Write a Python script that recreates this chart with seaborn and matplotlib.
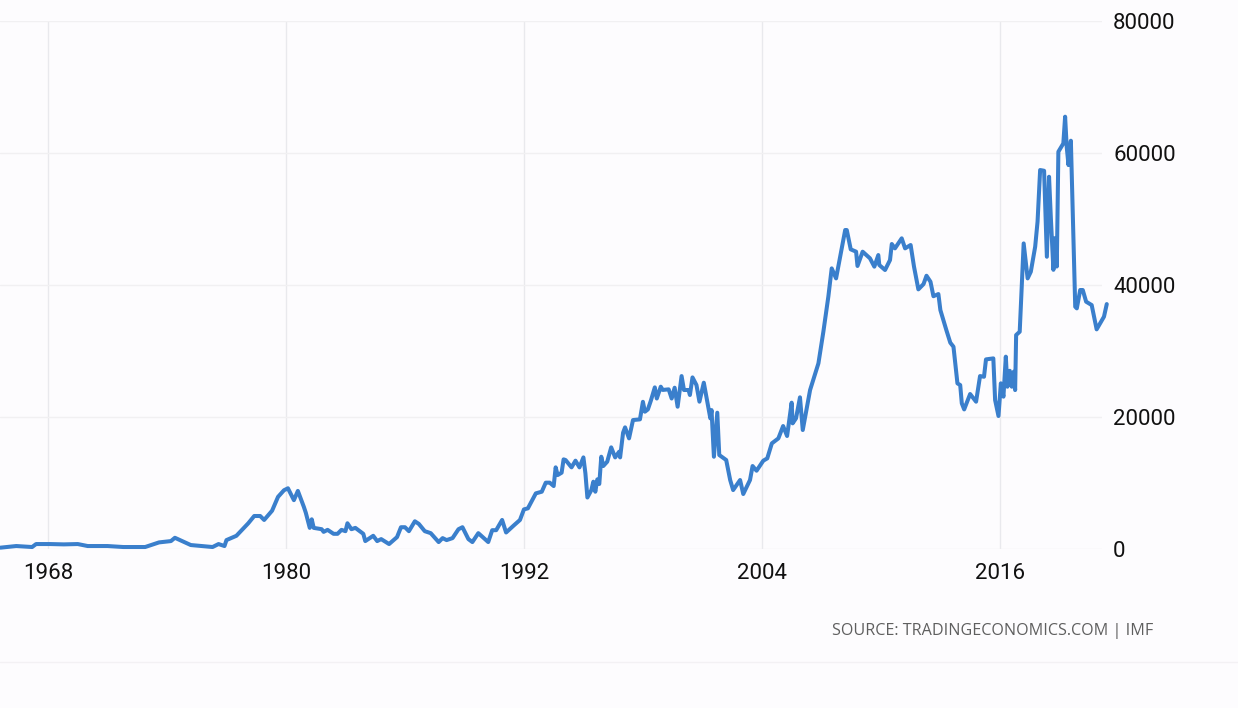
import matplotlib
matplotlib.use("Agg")
import matplotlib.pyplot as plt
from matplotlib.lines import Line2D
import pandas as pd
import seaborn as sns

# values
years = [
    1965.6, 1966.4, 1967.2, 1967.4, 1968.1, 1968.8, 1969.5, 1970.0, 1971.0, 1971.8,
    1972.9, 1973.6, 1974.2, 1974.4, 1975.2, 1976.3, 1976.6, 1976.9, 1977.0, 1977.5,
    1978.1, 1978.4, 1978.7, 1978.9, 1979.3, 1979.6, 1979.9, 1980.1, 1980.4, 1980.6,
    1980.9, 1981.0, 1981.2, 1981.3, 1981.4, 1981.8, 1981.9, 1982.1, 1982.4, 1982.6,
    1982.8, 1983.0, 1983.1, 1983.3, 1983.5, 1983.9, 1984.0, 1984.4, 1984.6, 1984.8,
    1985.2, 1985.6, 1985.8, 1986.0, 1986.2, 1986.5, 1986.7, 1987.0, 1987.3, 1987.7,
    1987.9, 1988.1, 1988.4, 1988.7, 1988.9, 1989.2, 1989.4, 1989.7, 1990.2, 1990.4,
    1990.6, 1990.9, 1991.1, 1991.5, 1991.8, 1992.0, 1992.2, 1992.6, 1992.9, 1993.1,
    1993.3, 1993.5, 1993.6, 1993.7, 1993.9, 1994.0, 1994.1, 1994.4, 1994.6, 1994.8,
    1995.0, 1995.1, 1995.2, 1995.4, 1995.5, 1995.6, 1995.7, 1995.8, 1995.9, 1996.0,
    1996.2, 1996.4, 1996.6, 1996.8, 1996.85, 1997.0, 1997.1, 1997.3, 1997.5, 1997.85,
    1998.0, 1998.1, 1998.25, 1998.4, 1998.6, 1998.7, 1998.9, 1999.0, 1999.3, 1999.45,
    1999.6, 1999.75, 1999.95, 2000.07, 2000.3, 2000.37, 2000.5, 2000.7, 2000.85, 2001.07,
    2001.25, 2001.4, 2001.46, 2001.58, 2001.75, 2001.85, 2002.2, 2002.4, 2002.55, 2002.9,
    2003.06, 2003.4, 2003.53, 2003.73, 2004.07, 2004.27, 2004.5, 2004.83, 2005.07, 2005.27,
    2005.5, 2005.55, 2005.72, 2005.92, 2006.06, 2006.23, 2006.43, 2006.85, 2007.1, 2007.35,
    2007.52, 2007.74, 2008.2, 2008.28, 2008.48, 2008.75, 2008.82, 2009.08, 2009.45, 2009.67,
    2009.87, 2009.92, 2010.21, 2010.46, 2010.55, 2010.71, 2011.05, 2011.22, 2011.5, 2011.67,
    2011.89, 2012.15, 2012.3, 2012.5, 2012.65, 2012.9, 2013.0, 2013.3, 2013.5, 2013.66,
    2013.86, 2014.0, 2014.08, 2014.2, 2014.5, 2014.8, 2015.0, 2015.2, 2015.3, 2015.67,
    2015.76, 2015.93, 2016.05, 2016.18, 2016.3, 2016.38, 2016.5, 2016.6, 2016.7, 2016.77,
    2016.82, 2017.0, 2017.2, 2017.4, 2017.56, 2017.78, 2017.9, 2018.03, 2018.23, 2018.37,
    2018.48, 2018.57, 2018.7, 2018.78, 2018.87, 2018.95, 2019.2, 2019.29, 2019.37, 2019.46,
    2019.58, 2019.8, 2019.88, 2020.05, 2020.18, 2020.35, 2020.63, 2020.88, 2021.25, 2021.39,
]
reserves = [
    200, 450, 300, 750, 750, 700, 750, 450, 450, 300,
    300, 1000, 1200, 1700, 600, 300, 750, 450, 1350, 2000,
    3900, 5000, 5000, 4400, 5800, 7900, 8900, 9200, 7400, 8800,
    6400, 5500, 3200, 4500, 3200, 3000, 2600, 2900, 2300, 2300,
    2900, 2700, 3900, 3000, 3200, 2300, 1200, 2000, 1200, 1500,
    750, 1800, 3300, 3300, 2700, 4200, 3800, 2700, 2400, 1050,
    1650, 1350, 1650, 3000, 3300, 1500, 1050, 2400, 1050, 2850,
    2850, 4400, 2500, 3600, 4400, 6000, 6160, 8430, 8680, 10050,
    10050, 9540, 12370, 11200, 11560, 13580, 13480, 12370, 13380, 12370,
    13880, 11460, 7800, 8930, 10200, 8680, 10550, 9850, 13980, 12570,
    13230, 15400, 13880, 14740, 13880, 17620, 18430, 16760, 19540, 19640,
    22300, 20800, 21150, 22470, 24490, 22800, 24590, 24100, 24190, 22800,
    24440, 21560, 26200, 24090, 24090, 23330, 26000, 24840, 22320, 25200,
    22300, 19800, 21050, 13980, 20650, 14240, 13480, 10450, 8930, 10450,
    8330, 10450, 12570, 11860, 13380, 13730, 16000, 16760, 18630, 17120,
    22170, 19040, 19800, 22980, 18030, 20800, 24090, 28130, 32930, 38230,
    42520, 41000, 48330, 48330, 45400, 45050, 42880, 45050, 44040, 42780,
    44540, 43030, 42270, 43780, 46210, 45550, 47070, 45550, 46060, 42780,
    39340, 40140, 41400, 40500, 38300, 38630, 36200, 33180, 31260, 30650,
    25100, 24840, 22070, 21150, 23480, 22320, 26200, 26100, 28730, 28880,
    22570, 20150, 25100, 23080, 29140, 24590, 27000, 24590, 26860, 24080,
    32420, 32920, 46300, 41000, 42010, 45800, 49590, 57420, 57310, 44280,
    56400, 50200, 42300, 47100, 42800, 60190, 61450, 65500, 60950, 58170,
    61860, 36710, 36460, 39240, 39240, 37470, 36960, 33280, 35200, 37110,
]
x_ticks = [1968, 1980, 1992, 2004, 2016]
y_ticks = [0, 20000, 40000, 60000, 80000]
source_text = "SOURCE: TRADINGECONOMICS.COM | IMF"

sns.set_theme(style="white")
plt.rcParams["font.family"] = ["Roboto", "DejaVu Sans"]

BG = "#fdfcfe"

df = pd.DataFrame({"year": years, "value": reserves})

fig = plt.figure(figsize=(12.38, 7.08), dpi=100, facecolor=BG)
ax = fig.add_axes([0, 159 / 708, 1102 / 1238, 528 / 708], facecolor=BG)

sns.lineplot(data=df, x="year", y="value", estimator=None, sort=False,
             color="#3a7fcc", linewidth=2.9, clip_on=False, zorder=3,
             solid_joinstyle="round", ax=ax)

ax.set_xlim(1965.58, 2021.15)
ax.set_ylim(0, 80000)
ax.set_xticks(x_ticks)
ax.set_yticks(y_ticks)
ax.set_xlabel("")
ax.set_ylabel("")
ax.yaxis.tick_right()
ax.grid(True, axis="x", color="#e9e9ed", linewidth=1)
ax.grid(True, axis="y", color="#f1f0f2", linewidth=1)
ax.tick_params(axis="x", length=0, pad=10, labelsize=16, labelcolor="#111111")
ax.tick_params(axis="y", length=0, pad=8, labelsize=16, labelcolor="#111111")
sns.despine(ax=ax, left=True, right=True, top=True, bottom=True)

fig.text(1153 / 1238, 1 - 631 / 708, source_text, ha="right", va="center",
         fontsize=11.6, color="#5f5f5f", family=["Open Sans", "DejaVu Sans"])
fig.add_artist(Line2D([0, 1], [1 - 662 / 708] * 2, color="#f3f1f4", linewidth=1))

fig.savefig("out.png", dpi=100, facecolor=BG)
